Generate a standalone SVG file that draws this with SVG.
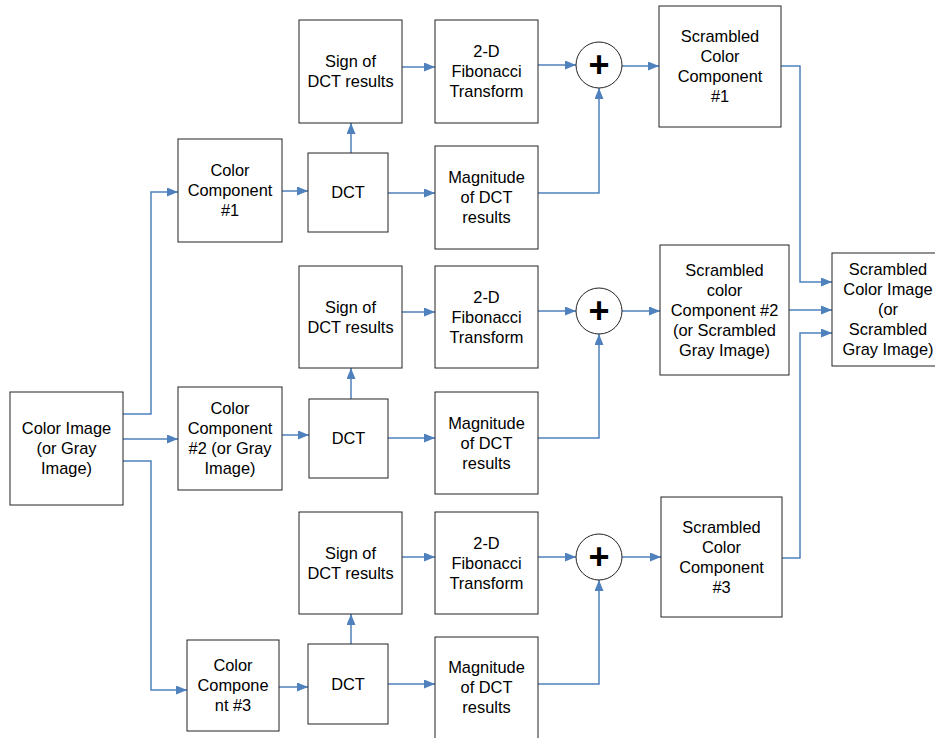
<svg xmlns="http://www.w3.org/2000/svg" width="935" height="738" viewBox="0 0 935 738">
<style>
.b{fill:#fff;stroke:#222;stroke-width:1}
.c{fill:#fff;stroke:#222;stroke-width:1}
.t{font-family:"Liberation Sans",Arial,sans-serif;font-size:16.4px;text-anchor:middle;fill:#000}
.p{font-family:"Liberation Sans",Arial,sans-serif;font-size:36px;font-weight:bold;text-anchor:middle;fill:#000}
.l{fill:none;stroke:#4F81BD;stroke-width:1.5;marker-end:url(#ah)}
</style>
<defs>
<marker id="ah" markerUnits="userSpaceOnUse" markerWidth="12" markerHeight="10" refX="11" refY="4.5" orient="auto">
<path d="M0,0 L11,4.5 L0,9 z" fill="#4F81BD"/>
</marker>
</defs>
<rect width="935" height="738" fill="#fff"/>
<g id="connectors">
<polyline class="l" points="123,414 151,414 151,192 178,192"/>
<polyline class="l" points="123,439 178,439"/>
<polyline class="l" points="123,461 151,461 151,690 187,690"/>
<polyline class="l" points="282,191 308,191"/>
<polyline class="l" points="351,153 351,123"/>
<polyline class="l" points="388,193 435,193"/>
<polyline class="l" points="402,67 435,67"/>
<polyline class="l" points="538,65 576,65"/>
<polyline class="l" points="538,193 599,193 599,88"/>
<polyline class="l" points="622,66 659,66"/>
<polyline class="l" points="781,66 800,66 800,282 832,282"/>
<polyline class="l" points="282,435 309,435"/>
<polyline class="l" points="351,399 351,368"/>
<polyline class="l" points="388,438 435,438"/>
<polyline class="l" points="402,312 435,312"/>
<polyline class="l" points="538,311 576,311"/>
<polyline class="l" points="538,438 599,438 599,334"/>
<polyline class="l" points="622,311 660,311"/>
<polyline class="l" points="789,310 832,310"/>
<polyline class="l" points="279,687 308,687"/>
<polyline class="l" points="351,644 351,614"/>
<polyline class="l" points="388,684 435,684"/>
<polyline class="l" points="402,557 435,557"/>
<polyline class="l" points="538,557 576,557"/>
<polyline class="l" points="538,684 599,684 599,580"/>
<polyline class="l" points="622,557 661,557"/>
<polyline class="l" points="782,558 800,558 800,333 832,333"/>
</g>
<g id="colorImage"><rect class="b" x="10" y="392" width="113" height="113"/>
<text class="t" x="66.5" y="433.5">Color Image</text><text class="t" x="66.5" y="453.5">(or Gray</text><text class="t" x="66.5" y="473.5">Image)</text></g>
<g id="cc1"><rect class="b" x="178" y="139" width="104" height="103"/>
<text class="t" x="230" y="175.5">Color</text><text class="t" x="230" y="195.5">Component</text><text class="t" x="230" y="215.5">#1</text></g>
<g id="cc2"><rect class="b" x="178" y="387" width="104" height="103"/>
<text class="t" x="230" y="414">Color</text><text class="t" x="230" y="434">Component</text><text class="t" x="230" y="454">#2 (or Gray</text><text class="t" x="230" y="474">Image)</text></g>
<g id="cc3"><rect class="b" x="187" y="640" width="92" height="91"/>
<text class="t" x="233" y="671">Color</text><text class="t" x="233" y="691">Compone</text><text class="t" x="233" y="711">nt #3</text></g>
<g id="dct1"><rect class="b" x="308" y="153" width="80" height="79"/><text class="t" x="348" y="198">DCT</text></g>
<g id="dct2"><rect class="b" x="309" y="399" width="79" height="79"/><text class="t" x="348.5" y="444">DCT</text></g>
<g id="dct3"><rect class="b" x="308" y="644" width="80" height="80"/><text class="t" x="348" y="689.5">DCT</text></g>
<g id="sign1"><rect class="b" x="299" y="20" width="103" height="103"/>
<text class="t" x="350.5" y="67">Sign of</text><text class="t" x="350.5" y="87">DCT results</text></g>
<g id="sign2"><rect class="b" x="299" y="266" width="103" height="102"/>
<text class="t" x="350.5" y="312.5">Sign of</text><text class="t" x="350.5" y="332.5">DCT results</text></g>
<g id="sign3"><rect class="b" x="299" y="512" width="103" height="102"/>
<text class="t" x="350.5" y="558.5">Sign of</text><text class="t" x="350.5" y="578.5">DCT results</text></g>
<g id="fib1"><rect class="b" x="435" y="20" width="103" height="103"/>
<text class="t" x="486.5" y="57">2-D</text><text class="t" x="486.5" y="77">Fibonacci</text><text class="t" x="486.5" y="97">Transform</text></g>
<g id="fib2"><rect class="b" x="435" y="266" width="103" height="102"/>
<text class="t" x="486.5" y="302.5">2-D</text><text class="t" x="486.5" y="322.5">Fibonacci</text><text class="t" x="486.5" y="342.5">Transform</text></g>
<g id="fib3"><rect class="b" x="435" y="512" width="103" height="102"/>
<text class="t" x="486.5" y="548.5">2-D</text><text class="t" x="486.5" y="568.5">Fibonacci</text><text class="t" x="486.5" y="588.5">Transform</text></g>
<g id="mag1"><rect class="b" x="435" y="146" width="103" height="103"/>
<text class="t" x="486.5" y="183">Magnitude</text><text class="t" x="486.5" y="203">of DCT</text><text class="t" x="486.5" y="223">results</text></g>
<g id="mag2"><rect class="b" x="435" y="392" width="103" height="102"/>
<text class="t" x="486.5" y="428.5">Magnitude</text><text class="t" x="486.5" y="448.5">of DCT</text><text class="t" x="486.5" y="468.5">results</text></g>
<g id="mag3"><rect class="b" x="435" y="637" width="103" height="103"/>
<text class="t" x="486.5" y="673">Magnitude</text><text class="t" x="486.5" y="693">of DCT</text><text class="t" x="486.5" y="713">results</text></g>
<g id="sum1"><circle class="c" cx="599" cy="65" r="23"/><text class="p" x="599" y="77">+</text></g>
<g id="sum2"><circle class="c" cx="599" cy="311" r="23"/><text class="p" x="599" y="323">+</text></g>
<g id="sum3"><circle class="c" cx="599" cy="557" r="23"/><text class="p" x="599" y="569">+</text></g>
<g id="sc1"><rect class="b" x="659" y="6" width="122" height="121"/>
<text class="t" x="720" y="42">Scrambled</text><text class="t" x="720" y="62">Color</text><text class="t" x="720" y="82">Component</text><text class="t" x="720" y="102">#1</text></g>
<g id="sc2"><rect class="b" x="660" y="245" width="129" height="130"/>
<text class="t" x="724.5" y="275.5">Scrambled</text><text class="t" x="724.5" y="295.5">color</text><text class="t" x="724.5" y="315.5">Component #2</text><text class="t" x="724.5" y="335.5">(or Scrambled</text><text class="t" x="724.5" y="355.5">Gray Image)</text></g>
<g id="sc3"><rect class="b" x="661" y="497" width="121" height="120"/>
<text class="t" x="721.5" y="532.5">Scrambled</text><text class="t" x="721.5" y="552.5">Color</text><text class="t" x="721.5" y="572.5">Component</text><text class="t" x="721.5" y="592.5">#3</text></g>
<g id="final"><rect class="b" x="832" y="253" width="112" height="113"/>
<text class="t" x="888" y="275">Scrambled</text><text class="t" x="888" y="295">Color Image</text><text class="t" x="888" y="315">(or</text><text class="t" x="888" y="335">Scrambled</text><text class="t" x="888" y="355">Gray Image)</text></g>
</svg>
